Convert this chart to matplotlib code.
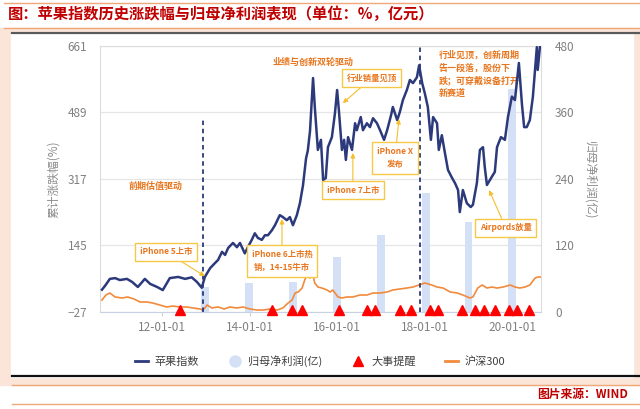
import pandas as pd
import matplotlib
matplotlib.use("Agg")
import matplotlib.pyplot as plt
from matplotlib.lines import Line2D
from matplotlib.patches import Rectangle

plt.rcParams['font.family'] = ['Noto Sans CJK SC', 'DejaVu Sans']

# 苹果指数 累计涨跌幅(%)，时间为小数年份
apple_t = [2010.63, 2010.70, 2010.81, 2010.93, 2011.04, 2011.20, 2011.32, 2011.45, 2011.61, 2011.73,
           2011.89, 2012.02, 2012.18, 2012.37, 2012.53, 2012.68, 2012.80, 2012.91, 2012.98, 2013.10,
           2013.21, 2013.28, 2013.37, 2013.44, 2013.51, 2013.62, 2013.71, 2013.78, 2013.89, 2013.96,
           2014.05, 2014.12, 2014.19, 2014.28, 2014.35, 2014.42, 2014.51, 2014.58, 2014.69, 2014.76,
           2014.85, 2014.92, 2014.99, 2015.08, 2015.15, 2015.22, 2015.29, 2015.33, 2015.38, 2015.45,
           2015.49, 2015.56, 2015.63, 2015.68, 2015.74, 2015.79, 2015.88, 2015.95, 2016.00, 2016.04,
           2016.11, 2016.16, 2016.20, 2016.25, 2016.34, 2016.41, 2016.45, 2016.54, 2016.59, 2016.68,
           2016.75, 2016.82, 2016.91, 2016.98, 2017.07, 2017.14, 2017.23, 2017.27, 2017.37, 2017.43,
           2017.50, 2017.59, 2017.66, 2017.73, 2017.82, 2017.87, 2017.94, 2018.00, 2018.07, 2018.14,
           2018.19, 2018.28, 2018.32, 2018.39, 2018.46, 2018.53, 2018.62, 2018.69, 2018.76, 2018.80,
           2018.87, 2018.96, 2019.05, 2019.10, 2019.19, 2019.26, 2019.33, 2019.37, 2019.42, 2019.53,
           2019.60, 2019.65, 2019.74, 2019.83, 2019.90, 2019.99, 2020.06, 2020.15, 2020.22, 2020.27,
           2020.33, 2020.40, 2020.47, 2020.56, 2020.58, 2020.63]
apple_v = [30, 40, 58, 60, 55, 58, 50, 37, 58, 45,
           37, 29, 60, 63, 58, 62, 50, 35, 63, 86,
           99, 107, 128, 120, 138, 151, 140, 151, 124, 140,
           159, 176, 164, 159, 171, 171, 184, 197, 223, 218,
           210, 218, 197, 223, 254, 300, 370, 390, 440, 578,
           503, 392, 418, 314, 319, 399, 425, 487, 547, 495,
           392, 418, 366, 425, 392, 461, 443, 477, 443, 461,
           451, 474, 461, 443, 418, 443, 482, 503, 469, 490,
           521, 547, 573, 565, 580, 611, 565, 539, 503, 418,
           477, 461, 392, 430, 384, 340, 320, 306, 288, 231,
           288, 254, 244, 250, 306, 392, 399, 348, 301, 322,
           335, 399, 425, 418, 477, 530, 521, 617, 510, 451,
           451, 469, 530, 658, 599, 658]

# 沪深300 累计涨跌幅(%)
hs300_t = [2010.63, 2010.72, 2010.81, 2010.93, 2011.09, 2011.22, 2011.36, 2011.50, 2011.66, 2011.79,
           2011.95, 2012.11, 2012.25, 2012.41, 2012.57, 2012.71, 2012.87, 2012.94, 2013.03, 2013.14,
           2013.28, 2013.42, 2013.55, 2013.71, 2013.85, 2014.01, 2014.17, 2014.31, 2014.47, 2014.63,
           2014.76, 2014.88, 2014.97, 2015.04, 2015.11, 2015.20, 2015.26, 2015.31, 2015.38, 2015.42,
           2015.49, 2015.56, 2015.65, 2015.77, 2015.84, 2015.90, 2016.02, 2016.11, 2016.22, 2016.36,
           2016.52, 2016.68, 2016.82, 2016.98, 2017.14, 2017.27, 2017.43, 2017.59, 2017.73, 2017.87,
           2018.00, 2018.16, 2018.28, 2018.42, 2018.58, 2018.74, 2018.87, 2019.03, 2019.10, 2019.21,
           2019.31, 2019.42, 2019.53, 2019.65, 2019.79, 2019.95, 2020.06, 2020.17, 2020.29, 2020.40,
           2020.52, 2020.58, 2020.65]
hs300_v = [3.3, 16.2, 21.4, 11.1, 8.5, 11.1, 5.9, -1.9, -1.9, -4.5,
           -9.7, -14.8, -12.3, -14.8, -14.8, -17.4, -20, -22.6, -9.7, -17.4,
           -14.8, -20, -14.8, -17.4, -14.8, -20, -22.6, -22.6, -20, -22.6,
           -17.4, -4.5, 3.3, 21.4, 24, 34.3, 55, 68, 60.2, 81,
           47.3, 36.9, 34.3, 29.2, 24, 29.2, 11.1, 8.5, 11.1, 11.1,
           16.2, 16.2, 21.4, 21.4, 24, 29.2, 31.8, 34.3, 36.9, 42.1,
           47.3, 42.1, 36.9, 34.3, 24, 21.4, 16.2, 8.5, 11.1, 34.3,
           42.1, 34.3, 36.9, 34.3, 36.9, 42.1, 36.9, 34.3, 36.9, 42.1,
           60.2, 62.8, 62.8]

# 归母净利润(亿)
profit_dates = ['2012-12-25', '2013-12-31', '2014-12-31', '2015-12-31',
                '2016-12-31', '2018-01-10', '2019-01-01', '2019-12-31']
profit_vals = [45, 52, 54, 99, 138, 214, 162, 402]

# 大事提醒
event_t = [2012.41, 2014.51, 2014.97, 2015.19, 2016.04, 2016.69, 2016.86, 2017.43, 2017.68,
           2018.13, 2018.30, 2018.86, 2019.15, 2019.36, 2019.61, 2019.93, 2020.10, 2020.38]

xtick_dates = ['2012-01-01', '2014-01-01', '2016-01-01', '2018-01-01', '2020-01-01']
left_ticks = [-27, 145, 317, 489, 661]
right_ticks = [0, 120, 240, 360, 480]


def to_date(years):
    out = []
    for y in years:
        yr = int(y)
        out.append(pd.Timestamp(yr, 1, 1) + pd.Timedelta(days=(y - yr) * 365.25))
    return out


navy = '#2C3A7B'
orange = '#F28A3C'
txt_orange = '#E8761E'

fig = plt.figure(figsize=(6.4, 4.09), dpi=100)
W, H = 640, 409


def fx(px):
    return px / W


def fy(py):
    return 1 - py / H


# frame decoration
fig.patches.append(Rectangle((0, fy(385)), 1, (385 - 28) / H, transform=fig.transFigure,
                             color='#FBE4D8', zorder=-3))
fig.patches.append(Rectangle((fx(11), fy(377)), (633 - 11) / W, (377 - 32) / H,
                             transform=fig.transFigure, color='white', zorder=-2))
for y, c, lw in [(2.5, '#F0A878', 1.0), (28, '#F0A878', 1.0), (32.5, '#5A5A5A', 1.6),
                 (376, '#111111', 1.6), (385, '#F0A878', 1.0), (404, '#F0A878', 1.0)]:
    x0 = fx(12) if y in (32.5, 376, 385, 404) else fx(4)
    fig.add_artist(Line2D([x0, 1], [fy(y), fy(y)], transform=fig.transFigure, color=c, lw=lw))

fig.text(fx(8), fy(14), '图：苹果指数历史涨跌幅与归母净利润表现（单位：%，亿元）',
         color='#C00000', fontsize=11, weight='bold', va='center')
fig.text(fx(628), fy(394), '图片来源：WIND', ha='right', va='center',
         color='#C00000', fontsize=8.5, weight='bold')

ax = fig.add_axes([fx(100), fy(311.7), 441 / W, 265.7 / H])
ax2 = ax.twinx()
ax.set_zorder(ax2.get_zorder() + 1)
ax.patch.set_visible(False)

ax2.bar(pd.to_datetime(profit_dates), profit_vals, width=66, color='#D4E0F5', zorder=1)
ax2.set_ylim(0, 480)
ax2.set_yticks(right_ticks)
ax2.grid(axis='y', color='#E6E6E6', lw=0.9)
ax2.set_axisbelow(True)
ax2.tick_params(axis='y', length=0, colors='#808080', labelsize=8.5, pad=10)
for s in ax2.spines.values():
    s.set_visible(False)

ax.plot(to_date(hs300_t), hs300_v, color=orange, lw=1.2, zorder=3)
ax.plot(to_date(apple_t), apple_v, color=navy, lw=1.8, zorder=4)
ax.vlines(to_date([2012.94]), -27, 470, colors=navy, linestyles=(0, (2.5, 2)), lw=1.3, zorder=5)
ax.vlines(to_date([2017.89]), -27, 661, colors=navy, linestyles=(0, (2.5, 2)), lw=1.3, zorder=5)
ax.plot(to_date(event_t), [-22] * len(event_t), '^', color='#FF0000', ms=7, clip_on=False, zorder=6)

ax.set_ylim(-27, 661)
ax.set_yticks(left_ticks)
ax.set_xlim(to_date([2010.585, 2020.655]))
ax.set_xticks(pd.to_datetime(xtick_dates))
ax.set_xticklabels([d[2:] for d in xtick_dates])
ax.tick_params(axis='y', length=0, colors='#808080', labelsize=8.5, pad=9)
ax.tick_params(axis='x', length=3, color='#D0D0D0', labelcolor='#808080', labelsize=8.5, pad=4)
for s in ax.spines.values():
    s.set_color('#DCDCDC')
ax.spines['bottom'].set_color('#C8D2E2')

fig.text(fx(53), fy(179), '累计涨跌幅(%)', rotation=90, ha='center', va='center',
         color='#8C8C8C', fontsize=8.5)
fig.text(fx(590), fy(180), '归母净利润(亿)', rotation=-90, ha='center', va='center',
         color='#8C8C8C', fontsize=8.5)

# 注释
box = dict(boxstyle='square,pad=0.55', fc='white', ec='#F6C847', lw=1)
arrow = dict(arrowstyle='-|>,head_length=0.45,head_width=0.22', color='#F5BE2E', lw=0.8,
             shrinkA=0, shrinkB=0)
notes = [
    ('iPhone 5上市', 2012.98, 65, 2012.09, 128),
    ('iPhone 6上市热\n销，14-15牛市', 2014.74, 213, 2014.74, 104),
    ('行业销量见顶', 2016.13, 513, 2016.79, 578),
    ('iPhone 7上市', 2016.36, 384, 2016.36, 288),
    ('iPhone X\n发布', 2017.41, 472, 2017.32, 371),
    ('Airpords放量', 2019.47, 288, 2019.85, 190),
]
for text, tx, tv, bx, bv in notes:
    ax.annotate(text, xy=(to_date([tx])[0], tv), xytext=(to_date([bx])[0], bv),
                ha='center', va='center', fontsize=6, color=txt_orange, weight='bold',
                linespacing=1.6, bbox=box, arrowprops=arrow, zorder=7)

ax.text(to_date([2011.86])[0], 298, '前期估值驱动', ha='center', va='center',
        fontsize=6.5, color=txt_orange, weight='bold')
ax.text(to_date([2015.45])[0], 619, '业绩与创新双轮驱动', ha='center', va='center',
        fontsize=6.5, color=txt_orange, weight='bold')
ax.text(to_date([2018.32])[0], 650, '行业见顶，创新周期\n告一段落，股份下\n跌；可穿戴设备打开\n新赛道',
        ha='left', va='top', fontsize=6.5, color=txt_orange, weight='bold', linespacing=1.45)

handles = [Line2D([], [], color=navy, lw=2),
           Line2D([], [], marker='o', ls='', color='#D4E0F5', ms=8),
           Line2D([], [], marker='^', ls='', color='#FF0000', ms=7),
           Line2D([], [], color=orange, lw=2)]
labels = ['苹果指数', '归母净利润(亿)', '大事提醒', '沪深300']
leg = fig.legend(handles, labels, loc='center', bbox_to_anchor=(0.5, fy(361)), ncol=4,
                 frameon=False, fontsize=8, handlelength=1.2, columnspacing=2.6,
                 handletextpad=0.6)
for t in leg.get_texts():
    t.set_color('#404040')

fig.savefig('out.png', dpi=100)
